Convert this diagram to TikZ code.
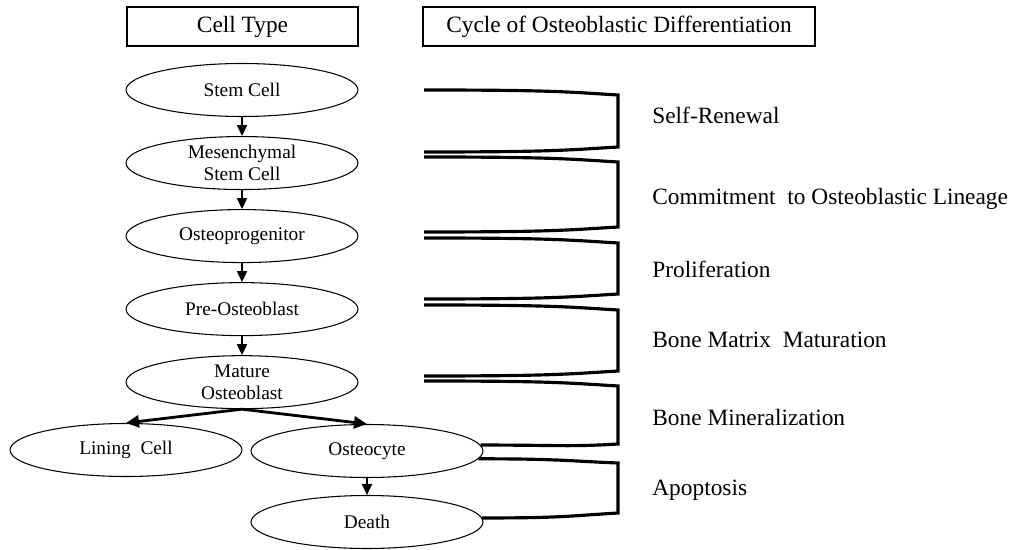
\documentclass[tikz,border=0pt]{standalone}
\usepackage{fontspec}
\setmainfont{Liberation Serif}
\usetikzlibrary{arrows.meta,positioning,shapes.geometric}

\begin{document}
\begin{tikzpicture}[
  x=0.02cm, y=-0.02cm,
  node distance=0.38cm,
  cell/.style={draw,ellipse,line width=0.6pt,minimum width=4.64cm,minimum height=1.06cm,inner sep=0pt,align=center,font=\fontsize{11}{12.5}\selectfont},
  head/.style={draw,line width=0.8pt,minimum height=0.78cm,inner sep=0pt,font=\fontsize{13.3}{15}\selectfont},
  phase/.style={anchor=base west,inner sep=0pt,font=\fontsize{13.3}{15}\selectfont},
  arrow/.style={-{Triangle[length=2.2mm,width=2mm]},line width=1.1pt},
  branch/.style={-{Triangle[length=2.6mm,width=2.4mm]},line width=1.6pt},
  brace/.style={line width=1.8pt}
]
\useasboundingbox (0,0) rectangle (1014,550);

% column headers
\node[head,minimum width=4.62cm] (ctype) at (242.5,26.5) {Cell Type};
\node[head,minimum width=7.84cm] (cycle) at (619,26.5) {Cycle of Osteoblastic Differentiation};

% cell types
\node[cell] (stem) at (242,90) {Stem Cell};
\node[cell,below=of stem] (msc) {Mesenchymal\\Stem Cell};
\node[cell,below=of msc] (prog) {Osteoprogenitor};
\node[cell,below=of prog] (preob) {Pre-Osteoblast};
\node[cell,below=of preob] (matob) {Mature\\Osteoblast};
\node[cell] (lining) at (126,450) {Lining~ Cell};
\node[cell] (ocyte) at (367,451) {Osteocyte};
\node[cell] (death) at (367,522) {Death};

\foreach \a/\b in {stem/msc,msc/prog,prog/preob,preob/matob,ocyte/death}
  \draw[arrow] (\a) -- (\b);
\draw[branch] (matob.south) -- (lining.north);
\draw[branch] (matob.south) -- (ocyte.north);

% brackets
\coordinate (s1) at (424,90);  \coordinate (e1) at (424,152);
\coordinate (s2) at (424,157); \coordinate (e2) at (424,232);
\coordinate (s3) at (424,238); \coordinate (e3) at (424,299);
\coordinate (s4) at (424,305); \coordinate (e4) at (424,376);
\coordinate (s5) at (424,381);
\draw[brace] (s1) .. controls +(130,0) and +(-50,-3) .. (618,95) -- (618,147) .. controls +(-50,3) and +(130,0) .. (e1);
\draw[brace] (s2) .. controls +(130,0) and +(-50,-3) .. (618,162) -- (618,227) .. controls +(-50,3) and +(130,0) .. (e2);
\draw[brace] (s3) .. controls +(130,0) and +(-50,-3) .. (618,243) -- (618,294) .. controls +(-50,3) and +(130,0) .. (e3);
\draw[brace] (s4) .. controls +(130,0) and +(-50,-3) .. (618,310) -- (618,371) .. controls +(-50,3) and +(130,0) .. (e4);
\draw[brace] (s5) .. controls +(130,0) and +(-50,-3) .. (618,386) -- (618,444) .. controls +(-50,3) and +(80,0) .. (ocyte.3);
\draw[brace] (ocyte.-4) .. controls +(80,0) and +(-50,-2) .. (618,463) -- (618,513) .. controls +(-50,3) and +(80,0) .. (death.2);

% phases
\node[phase] (renew) at (652,124) {Self-Renewal};
\node[phase] (commit) at (652,205) {Commitment~ to Osteoblastic Lineage};
\node[phase] (prolif) at (652,278) {Proliferation};
\node[phase] (matur) at (652,348) {Bone Matrix~ Maturation};
\node[phase] (miner) at (652,425) {Bone Mineralization};
\node[phase] (apopt) at (652,495) {Apoptosis};
\end{tikzpicture}
\end{document}
